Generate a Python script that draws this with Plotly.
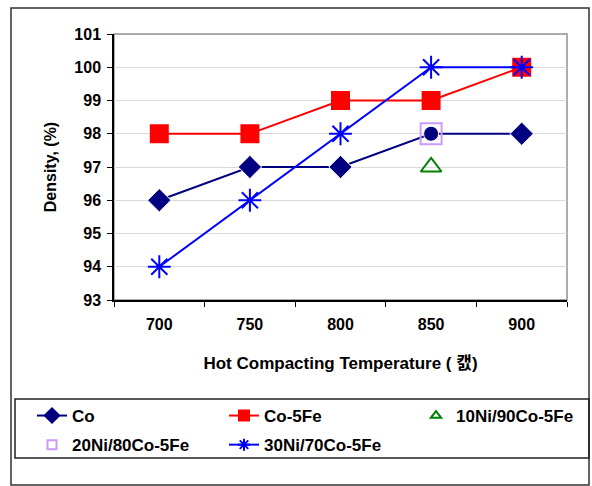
import plotly.graph_objects as go

temps = ["700", "750", "800", "850", "900"]
co = [96, 97, 97, 98, 98]
co5fe = [98, 98, 99, 99, 100]
ni10_x = ["850"]
ni10_y = [97]
ni20_x = ["850"]
ni20_y = [98]
ni30 = [94, 96, 98, 100, 100]

FONT = "Liberation Sans, Arial, Noto Sans CJK KR, sans-serif"

NAVY, RED, GREEN, LAV, BLUE = "#000080", "#ff0000", "#008000", "#cc99ff", "#0000ff"

fig = go.Figure()
# data traces
fig.add_trace(go.Scatter(x=temps, y=co, name="Co", mode="lines+markers", showlegend=False,
                         line=dict(color=NAVY, width=2),
                         marker=dict(symbol=["diamond", "diamond", "diamond", "circle", "diamond"],
                                     size=[18, 18, 18, 15, 18], color=NAVY, opacity=1)))
fig.add_trace(go.Scatter(x=temps, y=co5fe, name="Co-5Fe", mode="lines+markers", showlegend=False,
                         line=dict(color=RED, width=2),
                         marker=dict(symbol="square", size=19, color=RED, opacity=1)))
fig.add_trace(go.Scatter(x=ni10_x, y=ni10_y, name="10Ni/90Co-5Fe", mode="markers", showlegend=False,
                         marker=dict(symbol="triangle-up-open", size=18, color=GREEN,
                                     line=dict(width=2, color=GREEN))))
fig.add_trace(go.Scatter(x=ni20_x, y=ni20_y, name="20Ni/80Co-5Fe", mode="markers", showlegend=False,
                         marker=dict(symbol="square-open", size=21, color=LAV,
                                     line=dict(width=2, color=LAV))))
fig.add_trace(go.Scatter(x=temps, y=ni30, name="30Ni/70Co-5Fe", mode="lines+markers", showlegend=False,
                         line=dict(color=BLUE, width=2),
                         marker=dict(symbol="asterisk-open", size=19, color=BLUE,
                                     line=dict(width=2, color=BLUE))))

# legend entries (smaller symbols, as in the reference legend), laid out in 3 columns
legend_items = [
    ("Co", "lines+markers", NAVY, "diamond", 11, "legend"),
    ("Co-5Fe", "lines+markers", RED, "square", 10, "legend2"),
    ("10Ni/90Co-5Fe", "markers", GREEN, "triangle-up-open", 9, "legend3"),
    ("20Ni/80Co-5Fe", "markers", LAV, "square-open", 9, "legend"),
    ("30Ni/70Co-5Fe", "lines+markers", BLUE, "asterisk-open", 10, "legend2"),
]
for i, (name, mode, col, sym, sz, lg) in enumerate(legend_items):
    fig.add_trace(go.Scatter(x=[None], y=[None], name=name, mode=mode, legend=lg,
                             legendgroup=f"g{i}",
                             line=dict(color=col, width=2),
                             marker=dict(symbol=sym, size=sz, color=col,
                                         line=dict(width=2, color=col))))

L, R, T, B = 114, 25, 34, 186
W, H = 592 - L - R, 486 - T - B

def px(x):
    return (x - L) / W

def py(y):
    return 1 - (y - T) / H

def leg(xpix):
    return dict(orientation="v", x=px(xpix), y=py(398), xanchor="left", yanchor="top",
                borderwidth=0, bgcolor="rgba(0,0,0,0)", tracegroupgap=4,
                font=dict(family=FONT, size=17, color="black", weight="bold"),
                itemsizing="trace", traceorder="grouped")

fig.update_layout(
    width=592, height=486,
    margin=dict(l=L, r=R, t=T, b=B, autoexpand=False),
    paper_bgcolor="white", plot_bgcolor="white",
    font=dict(family=FONT, size=16, color="black"),
    showlegend=True,
    legend=leg(32), legend2=leg(224), legend3=leg(416),
    xaxis=dict(type="category", range=[-0.5, 4.5], tickson="boundaries",
               ticks="outside", ticklen=5, tickcolor="black",
               showline=True, linecolor="black", linewidth=1.5,
               showgrid=False, zeroline=False, ticklabelstandoff=9,
               tickfont=dict(family=FONT, size=16, weight="bold"),
               title=dict(text="Hot Compacting Temperature ( 캜)", standoff=25,
                          font=dict(family=FONT, size=17, weight="bold"))),
    yaxis=dict(range=[93, 101], dtick=1, ticks="outside", ticklen=5, tickcolor="black",
               showline=True, linecolor="black", linewidth=1.5, ticklabelstandoff=3,
               showgrid=True, gridcolor="#d9d9d9", gridwidth=1, zeroline=False,
               tickfont=dict(family=FONT, size=16, weight="bold"),
               title=dict(text="Density, (%)", standoff=14,
                          font=dict(family=FONT, size=16, weight="bold"))),
    shapes=[
        dict(type="rect", xref="paper", yref="paper", x0=0, x1=1, y0=0, y1=1,
             line=dict(color="#909090", width=1.5), layer="below"),
        dict(type="rect", xref="paper", yref="paper", x0=px(11), x1=px(589),
             y0=py(485), y1=py(8), line=dict(color="#303030", width=1.5)),
        dict(type="rect", xref="paper", yref="paper", x0=px(15), x1=px(589),
             y0=py(458), y1=py(399), line=dict(color="#202020", width=1.5)),
    ],
)

fig.write_html("out.html")
